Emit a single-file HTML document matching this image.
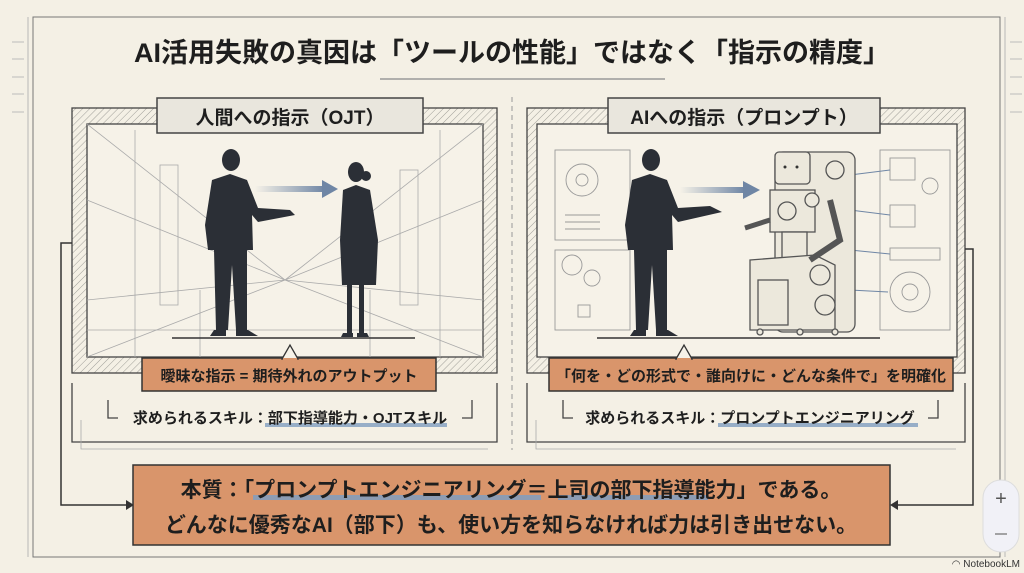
<!DOCTYPE html>
<html><head><meta charset="utf-8"><style>
html,body{margin:0;padding:0;background:#f4f0e5;}
body{width:1024px;height:573px;overflow:hidden;position:relative;font-family:"Liberation Sans","Noto Sans CJK JP",sans-serif;}
svg{position:absolute;left:0;top:0}
.t{font-family:"Liberation Sans","Noto Sans CJK JP",sans-serif;font-weight:bold;fill:#1e1e1e}
</style></head><body>
<svg width="1024" height="573" viewBox="0 0 1024 573">
<defs>
<pattern id="h" width="5" height="5" patternUnits="userSpaceOnUse" patternTransform="rotate(45)"><line x1="0" y1="0" x2="0" y2="5" stroke="#8a8a85" stroke-width="0.8"/></pattern>
<linearGradient id="ag" x1="0" x2="1"><stop offset="0" stop-color="#6f86a5" stop-opacity="0"/><stop offset="1" stop-color="#6f86a5"/></linearGradient>
</defs>
<!-- outer frame -->
<rect x="33" y="17" width="967" height="540" fill="none" stroke="#777" stroke-width="1"/>
<line x1="28" y1="17" x2="28" y2="557" stroke="#aaa" stroke-width="0.8"/>
<line x1="1005" y1="17" x2="1005" y2="557" stroke="#aaa" stroke-width="0.8"/>
<g stroke="#bbb" stroke-width="1">
<line x1="12" y1="42" x2="24" y2="42"/><line x1="12" y1="59" x2="24" y2="59"/><line x1="12" y1="77" x2="24" y2="77"/><line x1="12" y1="94" x2="24" y2="94"/><line x1="12" y1="112" x2="24" y2="112"/>
<line x1="1010" y1="42" x2="1022" y2="42"/><line x1="1010" y1="59" x2="1022" y2="59"/><line x1="1010" y1="77" x2="1022" y2="77"/><line x1="1010" y1="94" x2="1022" y2="94"/><line x1="1010" y1="112" x2="1022" y2="112"/>
</g>
<!-- title -->
<text x="512" y="62" text-anchor="middle" class="t" font-size="27">AI活用失敗の真因は「ツールの性能」ではなく「指示の精度」</text>
<line x1="380" y1="79" x2="665" y2="79" stroke="#999" stroke-width="1.5"/>
<line x1="512" y1="97" x2="512" y2="450" stroke="#999" stroke-width="1" stroke-dasharray="5,4"/>

<!-- LEFT PANEL -->
<g>
<rect x="72" y="108" width="425" height="265" fill="url(#h)" stroke="#444" stroke-width="1.3"/>
<rect x="87" y="124" width="396" height="233" fill="#f6f2e8" stroke="#444" stroke-width="1.3"/>
<g stroke="#aaa" stroke-width="0.8" fill="none">
<line x1="87" y1="124" x2="285" y2="280"/><line x1="483" y1="124" x2="285" y2="280"/>
<line x1="87" y1="357" x2="285" y2="280"/><line x1="483" y1="357" x2="285" y2="280"/>
<line x1="87" y1="200" x2="285" y2="280"/><line x1="483" y1="200" x2="285" y2="280"/>
<line x1="87" y1="300" x2="285" y2="280"/><line x1="483" y1="300" x2="285" y2="280"/>
<rect x="160" y="165" width="18" height="140"/><rect x="400" y="170" width="18" height="135"/>
<line x1="135" y1="130" x2="135" y2="357"/><line x1="440" y1="130" x2="440" y2="357"/>
<line x1="200" y1="290" x2="200" y2="357"/><line x1="370" y1="290" x2="370" y2="357"/>
<line x1="87" y1="330" x2="483" y2="330"/>
</g>
<line x1="172" y1="338" x2="415" y2="338" stroke="#333" stroke-width="1.5"/>
<!-- man -->
<g fill="#2b2f36">
<ellipse cx="231" cy="160" rx="9" ry="11"/>
<path d="M212 180 L230 174 L247 180 L258 208 L290 210 L295 215 L258 222 L252 215 L253 250 L247 250 L247 330 L236 330 L232 265 L228 330 L216 330 L214 250 L208 250 L205 225 Z"/>
<path d="M214 330 L226 330 L226 336 L210 336 Z"/><path d="M236 330 L248 330 L258 336 L236 336 Z"/>
</g>
<!-- woman -->
<g fill="#2b2f36">
<ellipse cx="356" cy="172" rx="8" ry="10"/><circle cx="366" cy="176" r="5"/>
<path d="M343 190 L356 185 L370 190 L378 240 L376 285 L342 285 L340 240 Z"/>
<rect x="347" y="285" width="5" height="48"/><rect x="359" y="285" width="5" height="48"/>
<path d="M343 333 L353 333 L353 337 L341 337Z"/><path d="M357 333 L367 333 L369 337 L357 337Z"/>
</g>
<rect x="255" y="186" width="70" height="6" fill="url(#ag)"/>
<polygon points="322,180 338,189 322,198" fill="#6f86a5"/>
<rect x="157" y="98" width="266" height="35" fill="#e9e6dd" stroke="#444" stroke-width="1.5"/>
<text x="290" y="124" text-anchor="middle" class="t" font-size="19">人間への指示（OJT）</text>
</g>

<!-- RIGHT PANEL -->
<g>
<rect x="527" y="108" width="438" height="265" fill="url(#h)" stroke="#444" stroke-width="1.3"/>
<rect x="537" y="124" width="420" height="233" fill="#f6f2e8" stroke="#444" stroke-width="1.3"/>
<g stroke="#999" stroke-width="0.9" fill="none">
<rect x="555" y="150" width="75" height="90"/><circle cx="582" cy="180" r="16"/><circle cx="582" cy="180" r="6"/>
<line x1="565" y1="215" x2="600" y2="215"/><line x1="565" y1="222" x2="600" y2="222"/><line x1="565" y1="229" x2="600" y2="229"/>
<rect x="555" y="250" width="75" height="80"/><circle cx="572" cy="265" r="10"/><circle cx="592" cy="278" r="8"/><rect x="578" y="305" width="12" height="12"/>
<rect x="880" y="150" width="70" height="180"/><rect x="890" y="158" width="25" height="22"/><rect x="890" y="205" width="25" height="22"/><rect x="890" y="248" width="50" height="12"/>
<circle cx="930" cy="186" r="8"/><circle cx="910" cy="292" r="20"/><circle cx="910" cy="292" r="8"/>
<line x1="850" y1="175" x2="890" y2="170" stroke="#6f86a5"/><line x1="850" y1="210" x2="890" y2="215" stroke="#6f86a5"/><line x1="850" y1="250" x2="890" y2="254" stroke="#6f86a5"/><line x1="850" y1="290" x2="888" y2="292" stroke="#6f86a5"/>
</g>
<line x1="597" y1="338" x2="880" y2="338" stroke="#333" stroke-width="1.5"/>
<!-- man -->
<g fill="#2b2f36">
<ellipse cx="651" cy="160" rx="9" ry="11"/>
<path d="M632 180 L650 174 L667 180 L678 208 L710 206 L722 212 L678 222 L672 215 L673 250 L667 250 L667 330 L656 330 L652 265 L648 330 L636 330 L634 250 L628 250 L625 225 Z"/>
<path d="M634 330 L646 330 L646 336 L630 336 Z"/><path d="M656 330 L668 330 L678 336 L656 336 Z"/>
</g>
<rect x="680" y="187" width="65" height="6" fill="url(#ag)"/>
<polygon points="743,181 760,190 743,199" fill="#6f86a5"/>
<!-- robot -->
<g fill="#ece8dc" stroke="#555" stroke-width="1.3">
<rect x="775" y="152" width="80" height="180" rx="8"/>
<rect x="775" y="152" width="35" height="32" rx="4"/>
<rect x="770" y="190" width="45" height="42"/><circle cx="787" cy="211" r="9"/>
<rect x="782" y="232" width="25" height="30"/>
<path d="M750 260 L815 255 L835 265 L835 330 L750 330 Z"/>
<rect x="758" y="280" width="30" height="45"/>
<circle cx="820" cy="275" r="10"/><circle cx="825" cy="305" r="10"/>
<circle cx="812" cy="200" r="7"/><circle cx="835" cy="170" r="9"/>
<path d="M770 220 L745 228" stroke-width="5"/><path d="M830 200 L840 240 L810 260" stroke-width="6" fill="none"/>
<circle cx="760" cy="332" r="3"/><circle cx="800" cy="332" r="3"/><circle cx="835" cy="332" r="3"/>
</g>
<circle cx="785" cy="167" r="1.5" fill="#333"/><circle cx="797" cy="167" r="1.5" fill="#333"/>
<rect x="608" y="98" width="272" height="35" fill="#e9e6dd" stroke="#444" stroke-width="1.5"/>
<text x="744" y="124" text-anchor="middle" class="t" font-size="19">AIへの指示（プロンプト）</text>
</g>

<!-- brackets below panels -->
<g stroke="#444" stroke-width="1.3" fill="none">
<polyline points="72,383 72,442 497,442 497,383"/>
<polyline points="527,383 527,442 965,442 965,383"/>
<polyline points="108,400 108,418 118,418"/><polyline points="462,418 472,418 472,400"/>
<polyline points="563,400 563,418 573,418"/><polyline points="928,418 938,418 938,400"/>
</g>
<g stroke="#aaa" stroke-width="0.8" fill="none"><polyline points="81,420 81,449 488,449"/><polyline points="536,420 536,449 956,449"/></g>

<!-- callouts -->
<rect x="142" y="358" width="294" height="33" fill="#d9956b" stroke="#333" stroke-width="1.5"/>
<polygon points="282,359 290,345 298,359" fill="#f6f2e8" stroke="#333" stroke-width="1.3"/>
<line x1="283" y1="359" x2="297" y2="359" stroke="#d9956b" stroke-width="2"/>
<text x="289" y="381" text-anchor="middle" class="t" font-size="15">曖昧な指示 = 期待外れのアウトプット</text>
<rect x="549" y="358" width="404" height="33" fill="#d9956b" stroke="#333" stroke-width="1.5"/>
<polygon points="676,359 684,345 692,359" fill="#f6f2e8" stroke="#333" stroke-width="1.3"/>
<line x1="677" y1="359" x2="691" y2="359" stroke="#d9956b" stroke-width="2"/>
<text x="751" y="381" text-anchor="middle" class="t" font-size="15">「何を・どの形式で・誰向けに・どんな条件で」を明確化</text>

<!-- skills -->
<rect x="265" y="423" width="182" height="4" fill="#7f9dbf" opacity="0.8"/>
<text x="290" y="423" text-anchor="middle" class="t" font-size="15">求められるスキル：部下指導能力・OJTスキル</text>
<rect x="718" y="423" width="200" height="4" fill="#7f9dbf" opacity="0.8"/>
<text x="750" y="423" text-anchor="middle" class="t" font-size="15">求められるスキル：プロンプトエンジニアリング</text>

<!-- connectors -->
<g stroke="#333" stroke-width="1.5" fill="none">
<polyline points="72,243 61,243 61,505 128,505"/>
<polyline points="965,249 973,249 973,505 896,505"/>
</g>
<polygon points="126,500 134,505 126,510" fill="#333"/>
<polygon points="898,500 890,505 898,510" fill="#333"/>

<!-- bottom box -->
<rect x="133" y="465" width="757" height="80" fill="#d9956b" stroke="#333" stroke-width="1.5"/>
<rect x="253" y="495" width="288" height="5" fill="#7f9dbf" opacity="0.85"/>
<rect x="558" y="495" width="150" height="5" fill="#7f9dbf" opacity="0.85"/>
<text x="511" y="497" text-anchor="middle" class="t" font-size="21">本質：「プロンプトエンジニアリング＝上司の部下指導能力」である。</text>
<text x="511" y="532" text-anchor="middle" class="t" font-size="21">どんなに優秀なAI（部下）も、使い方を知らなければ力は引き出せない。</text>

<!-- zoom pill -->
<rect x="983" y="480" width="36" height="72" rx="18" fill="#f1f1f7" stroke="#ddd"/>
<text x="1001" y="505" text-anchor="middle" font-size="20" fill="#555">+</text>
<line x1="995" y1="534" x2="1007" y2="534" stroke="#888" stroke-width="1.5"/>
<text x="1020" y="567" text-anchor="end" font-size="10" fill="#333" font-family="Liberation Sans,sans-serif">◠ NotebookLM</text>
</svg>
</body></html>
